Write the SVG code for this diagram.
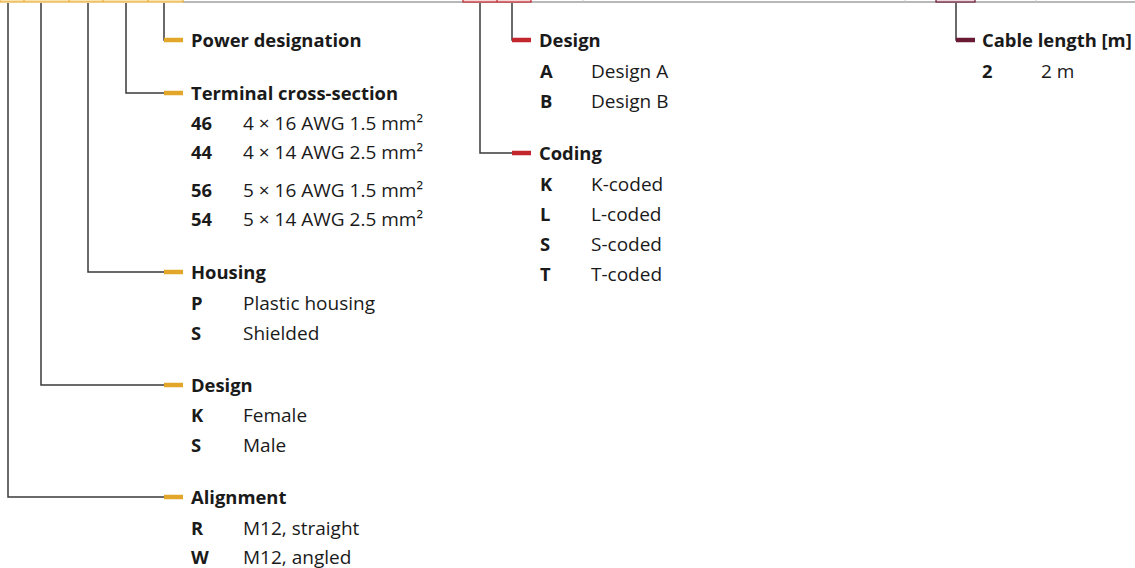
<svg xmlns="http://www.w3.org/2000/svg" width="1135" height="568" viewBox="0 0 1135 568">
<style>
text{font-family:"Open Sans","Noto Sans","Liberation Sans",sans-serif;font-size:19px;fill:#1a1a1a}
.h{font-weight:bold;font-size:18.4px}
.c{font-weight:bold;font-size:18.4px}
.ln{fill:none;stroke:#3a3a3a;stroke-width:1.5}
.y{stroke:#e2a62a;stroke-width:4.5}
.r{stroke:#c1272d;stroke-width:4.5}
.d{stroke:#6b1a34;stroke-width:4.5}
</style>
<g id="header">
<line x1="183" y1="2" x2="1135" y2="2" stroke="#a0a0a0" stroke-width="1.5"/>
<rect x="0" y="-3" width="183" height="5" fill="#fbe3b0" stroke="#e8ae3a" stroke-width="1.2"/>
<path d="M24 -3V2M69 -3V2M103 -3V2M148 -3V2" stroke="#e8ae3a" stroke-width="1.2"/>
<rect x="463" y="-3" width="68" height="5" fill="#f6d6d6" stroke="#c1272d" stroke-width="1.2"/>
<path d="M497 -3V2" stroke="#c1272d" stroke-width="1.2"/>
<rect x="936" y="-3" width="39" height="5" fill="#ecd5dc" stroke="#6b1a34" stroke-width="1.2"/>
<path d="M905 -3V2M1036 -3V2M583 -3V2" stroke="#c8c8c8" stroke-width="1"/>
</g>
<g id="connectors">
<path class="ln" d="M164 3V40H170"/>
<path class="ln" d="M126 3V93H170"/>
<path class="ln" d="M88 3V272H170"/>
<path class="ln" d="M41 3V385H170"/>
<path class="ln" d="M8 3V497H170"/>
<path class="ln" d="M512 3V40H518"/>
<path class="ln" d="M480 3V153H518"/>
<path class="ln" d="M956 3V40H962"/>
<path class="y" d="M164 40H183M164 93H183M164 272H183M164 385H183M164 497H183"/>
<path class="r" d="M512 40H531M512 153H531"/>
<path class="d" d="M956 40H975"/>
</g>
<g id="power">
<text class="h" x="191" y="47">Power designation</text>
</g>
<g id="terminal">
<text class="h" x="191" y="100">Terminal cross-section</text>
<text class="c" x="191" y="130">46</text><text x="243" y="130">4 × 16 AWG 1.5 mm²</text>
<text class="c" x="191" y="159">44</text><text x="243" y="159">4 × 14 AWG 2.5 mm²</text>
<text class="c" x="191" y="197">56</text><text x="243" y="197">5 × 16 AWG 1.5 mm²</text>
<text class="c" x="191" y="226">54</text><text x="243" y="226">5 × 14 AWG 2.5 mm²</text>
</g>
<g id="housing">
<text class="h" x="191" y="279">Housing</text>
<text class="c" x="191" y="310">P</text><text x="243" y="310">Plastic housing</text>
<text class="c" x="191" y="340">S</text><text x="243" y="340">Shielded</text>
</g>
<g id="design1">
<text class="h" x="191" y="392">Design</text>
<text class="c" x="191" y="422">K</text><text x="243" y="422">Female</text>
<text class="c" x="191" y="452">S</text><text x="243" y="452">Male</text>
</g>
<g id="alignment">
<text class="h" x="191" y="504">Alignment</text>
<text class="c" x="191" y="535">R</text><text x="243" y="535">M12, straight</text>
<text class="c" x="191" y="564">W</text><text x="243" y="564">M12, angled</text>
</g>
<g id="design2">
<text class="h" x="539" y="47">Design</text>
<text class="c" x="540" y="78">A</text><text x="591" y="78">Design A</text>
<text class="c" x="540" y="108">B</text><text x="591" y="108">Design B</text>
</g>
<g id="coding">
<text class="h" x="539" y="160">Coding</text>
<text class="c" x="540" y="191">K</text><text x="591" y="191">K-coded</text>
<text class="c" x="540" y="221">L</text><text x="591" y="221">L-coded</text>
<text class="c" x="540" y="251">S</text><text x="591" y="251">S-coded</text>
<text class="c" x="540" y="281">T</text><text x="591" y="281">T-coded</text>
</g>
<g id="cable">
<text class="h" x="982" y="47">Cable length [m]</text>
<text class="c" x="982" y="78">2</text><text x="1041" y="78">2 m</text>
</g>
</svg>
